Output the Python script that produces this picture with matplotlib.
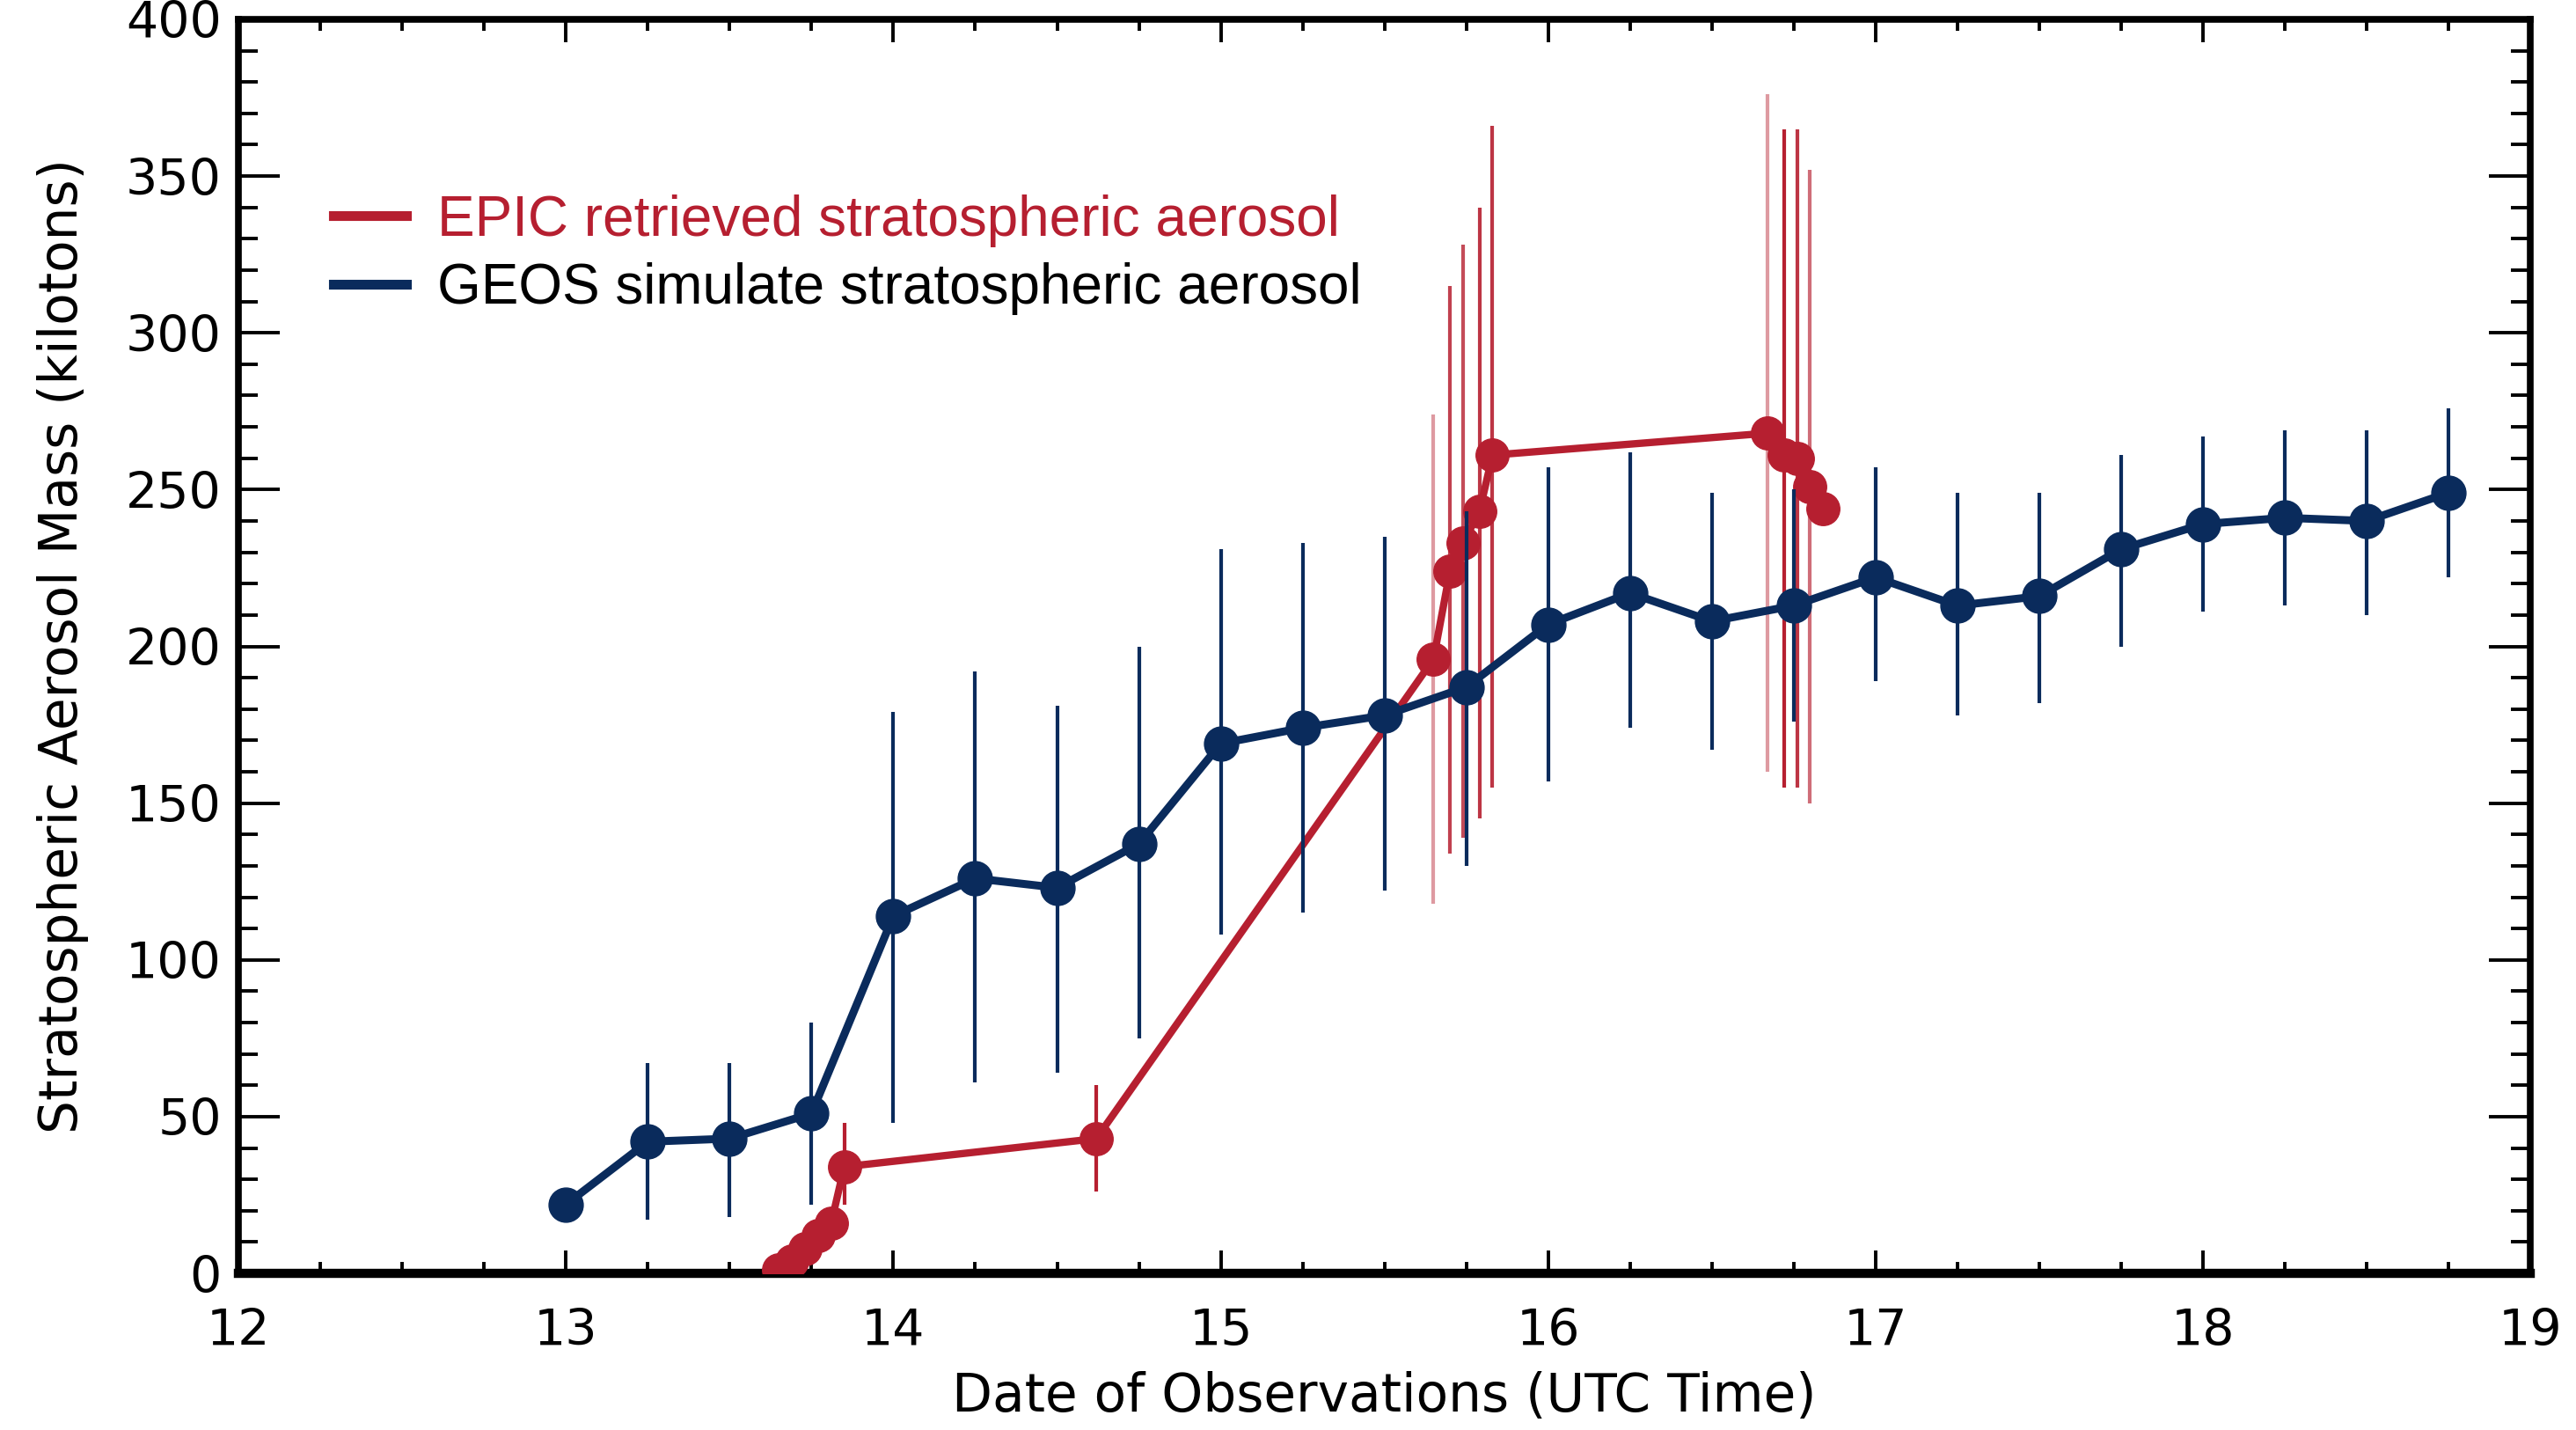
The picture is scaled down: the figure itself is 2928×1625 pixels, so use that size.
import numpy as np
import matplotlib
matplotlib.use("Agg")
import matplotlib.pyplot as plt
from matplotlib.colors import to_rgba
from matplotlib.lines import Line2D
from matplotlib.ticker import MultipleLocator

# colours
RED = "#b61f30"
BLUE = "#0a2b5c"

# GEOS simulated stratospheric aerosol (kilotons)
geos_x = [13.0, 13.25, 13.5, 13.75, 14.0, 14.25, 14.5, 14.75, 15.0, 15.25, 15.5, 15.75,
          16.0, 16.25, 16.5, 16.75, 17.0, 17.25, 17.5, 17.75, 18.0, 18.25, 18.5, 18.75]
geos_y = [22, 42, 43, 51, 114, 126, 123, 137, 169, 174, 178, 187,
          207, 217, 208, 213, 222, 213, 216, 231, 239, 241, 240, 249]
geos_lo = [np.nan, 17, 18, 22, 48, 61, 64, 75, 108, 115, 122, 130,
           157, 174, 167, 176, 189, 178, 182, 200, 211, 213, 210, 222]
geos_hi = [np.nan, 67, 67, 80, 179, 192, 181, 200, 231, 233, 235, 243,
           257, 262, 249, 250, 257, 249, 249, 261, 267, 269, 269, 276]

# EPIC retrieved stratospheric aerosol (kilotons)
epic_x = [13.65, 13.69, 13.73, 13.77, 13.81, 13.85, 14.62, 15.65, 15.70, 15.74, 15.79, 15.83,
          16.67, 16.72, 16.76, 16.80, 16.84]
epic_y = [1, 4, 8, 12, 16, 34, 43, 196, 224, 233, 243, 261,
          268, 261, 260, 251, 244]
epic_lo = [np.nan, np.nan, np.nan, np.nan, np.nan, 22, 26, 118, 134, 139, 145, 155,
           160, 155, 155, 150, np.nan]
epic_hi = [np.nan, np.nan, np.nan, np.nan, np.nan, 48, 60, 274, 315, 328, 340, 366,
           376, 365, 365, 352, np.nan]
epic_bar_alpha = [1, 1, 1, 1, 1, 1, 1, 0.45, 0.85, 0.8, 0.9, 0.9,
                  0.45, 1, 0.9, 0.65, 1]

fig = plt.figure(figsize=(29.28, 16.25), dpi=100)
ax = fig.add_axes([0.0926, 0.1095, 0.8897, 0.877])

# red: error bars then line
red_cols = [to_rgba(RED, a) for a in epic_bar_alpha]
ax.vlines(epic_x, epic_lo, epic_hi, colors=red_cols, linewidth=3, zorder=2)
ax.plot(epic_x, epic_y, color=RED, linewidth=6, marker="o", markersize=27, zorder=3)

# blue on top
ax.vlines(geos_x, geos_lo, geos_hi, colors=BLUE, linewidth=3, zorder=4)
ax.plot(geos_x, geos_y, color=BLUE, linewidth=6.5, marker="o", markersize=28, zorder=5)

ax.set_xlim(12, 19)
ax.set_ylim(0, 400)
ax.xaxis.set_major_locator(MultipleLocator(1))
ax.xaxis.set_minor_locator(MultipleLocator(0.25))
ax.yaxis.set_major_locator(MultipleLocator(50))
ax.yaxis.set_minor_locator(MultipleLocator(10))

ax.tick_params(which="both", direction="in", top=True, right=True, width=2.8, colors="black")
ax.tick_params(axis="y", which="major", length=34, labelsize=41, pad=14)
ax.tick_params(axis="y", which="minor", length=16)
ax.tick_params(axis="x", which="major", length=19, labelsize=41, pad=28)
ax.tick_params(axis="x", which="minor", length=9.5)
for sp in ax.spines.values():
    sp.set_linewidth(5.5)
ax.spines["bottom"].set_linewidth(7.5)

ax.set_xlabel("Date of Observations (UTC Time)", fontsize=43, labelpad=12)
ax.set_ylabel("Stratospheric Aerosol Mass (kilotons)", fontsize=43, labelpad=30)

handles = [Line2D([], [], color=RED, linewidth=8),
           Line2D([], [], color=BLUE, linewidth=8)]
leg = ax.legend(handles, ["EPIC retrieved stratospheric aerosol", "GEOS simulate stratospheric aerosol"],
                loc="upper left", bbox_to_anchor=(0.029, 0.883), frameon=False, borderpad=0,
                prop={"family": "Liberation Sans", "size": 46},
                handlelength=1.3, handletextpad=0.55, labelspacing=0.27)
leg.get_texts()[0].set_color(RED)
leg.get_texts()[1].set_color("black")

fig.savefig("out.png", dpi=100)
